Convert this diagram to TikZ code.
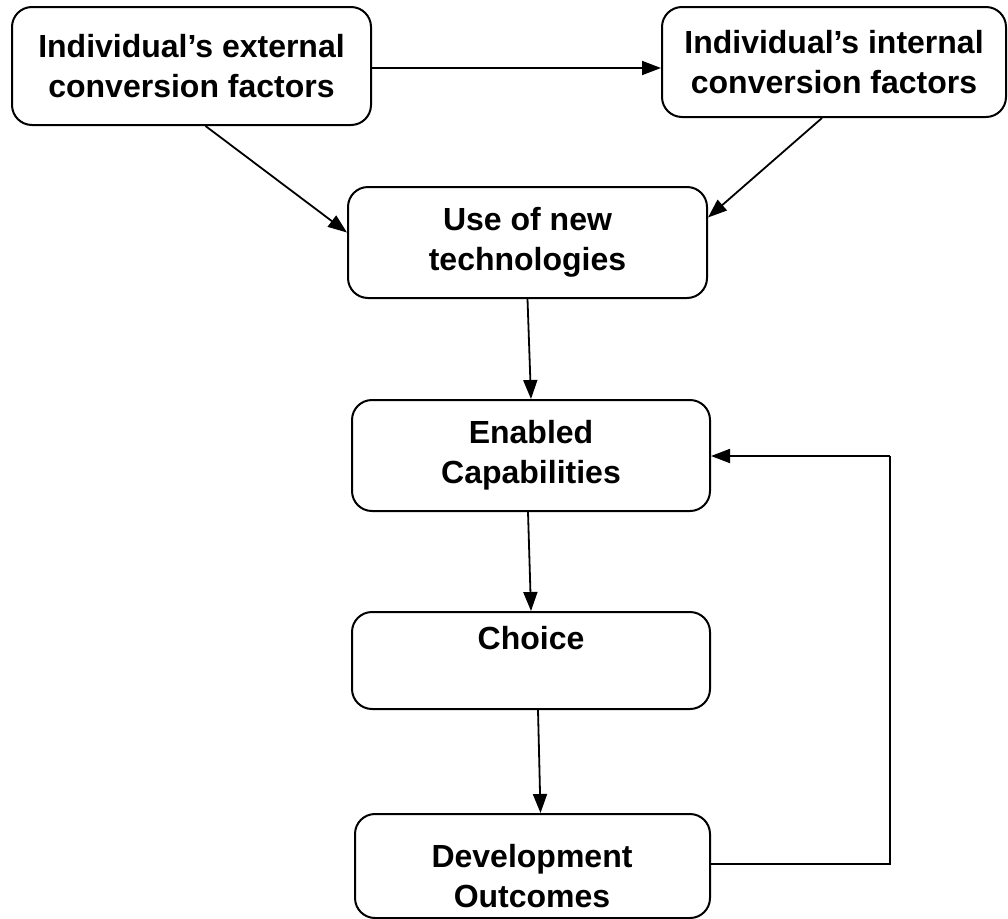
\documentclass[tikz,border=0pt]{standalone}
\usepackage{fontspec}
\setmainfont{Liberation Sans}
\usetikzlibrary{arrows.meta}
\begin{document}
\begin{tikzpicture}[x=1pt,y=-1pt,
  box/.style={draw, line width=2pt, rounded corners=20pt, align=center,
    font=\bfseries\fontsize{32}{40}\selectfont, inner sep=0pt},
  txt/.style={align=center, font=\bfseries\fontsize{32}{40}\selectfont, inner sep=0pt},
  arr/.style={line width=1.8pt, -{Triangle[length=19pt,width=14pt]}},
  ln/.style={line width=1.8pt}]
\useasboundingbox (0,0) rectangle (1008,918);
\clip (0,0) rectangle (1008,918);
\node[box, minimum width=359pt, minimum height=118pt] (ext) at (191.5,66) {Individual’s external\\conversion factors};
\node[box, minimum width=344pt, minimum height=110pt] (int) at (834,62) {Individual’s internal\\conversion factors};
\node[box, minimum width=359pt, minimum height=111pt] (use) at (527.5,242.5) {Use of new\\technologies};
\node[box, minimum width=358pt, minimum height=111pt] (enab) at (531,455.5) {Enabled\\Capabilities};
\node[box, minimum width=358pt, minimum height=97pt] (choice) at (531,660.5) {};
\node[txt] (choicet) at (531,638) {Choice};
\node[box, minimum width=355pt, minimum height=104pt] (dev) at (532.5,866) {};
\node[txt] (devt) at (532,876) {Development\\Outcomes};
\coordinate (c1) at (890,864);
\coordinate (c2) at (890,456);
\draw[arr] ([yshift=-2pt]ext.east) -- ([yshift=-2pt]ext.east -| int.west);
\draw[arr] ([xshift=14pt]ext.south) -- ([yshift=10pt]use.west);
\draw[arr] ([xshift=-12pt]int.south) -- ([yshift=25pt]use.east);
\draw[arr] (use.south) -- (enab.north);
\draw[arr] ([xshift=-3pt]enab.south) -- (choice.north);
\draw[arr] ([xshift=7pt]choice.south) -- ([xshift=8pt]dev.north);
\draw[ln] (dev.east |- c1) -- (c1) -- (c2);
\draw[arr] (c2) -- (enab.east |- c2);
\end{tikzpicture}
\end{document}
